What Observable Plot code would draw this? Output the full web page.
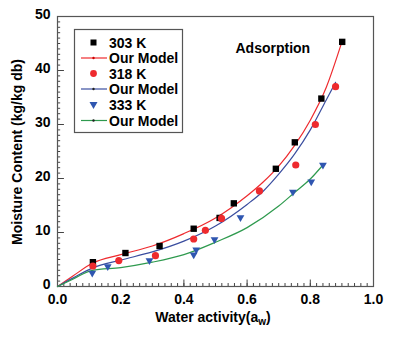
<!DOCTYPE html>
<html>
<head>
<meta charset="utf-8">
<script src="https://cdn.jsdelivr.net/npm/d3@7"></script>
<script src="https://cdn.jsdelivr.net/npm/@observablehq/plot@0.6"></script>
<style>
  html, body { margin: 0; padding: 0; background: #fff; }
  #chart { width: 400px; height: 341px; }
</style>
</head>
<body>
<div id="chart"></div>
<script>
// Observed data
const aw303 = [0.112, 0.215, 0.323, 0.431, 0.513, 0.558, 0.691, 0.751, 0.835, 0.901];
const mc303 = [4.5, 6.2, 7.5, 10.7, 12.7, 15.4, 21.8, 26.7, 34.8, 45.3];
const aw318 = [0.112, 0.194, 0.310, 0.431, 0.468, 0.519, 0.639, 0.754, 0.816, 0.880];
const mc318 = [3.8, 4.8, 5.7, 8.8, 10.4, 12.6, 17.7, 22.5, 30.0, 37.0];
const aw333 = [0.110, 0.159, 0.291, 0.431, 0.439, 0.497, 0.579, 0.745, 0.803, 0.840];
const mc333 = [2.5, 3.7, 4.8, 5.9, 6.8, 8.7, 12.8, 17.5, 19.4, 22.5];

// Model curves
const model303aw = [0, 0.05, 0.11, 0.2, 0.3, 0.4, 0.5, 0.55, 0.6, 0.65, 0.7, 0.75, 0.8, 0.85, 0.9];
const model303mc = [0, 2.0, 4.3, 5.9, 7.5, 9.8, 12.7, 14.6, 16.8, 19.3, 22.3, 26.1, 30.8, 36.8, 45.3];
const model318aw = [0, 0.05, 0.11, 0.2, 0.3, 0.4, 0.5, 0.6, 0.65, 0.7, 0.75, 0.8, 0.85, 0.88];
const model318mc = [0, 1.6, 3.4, 4.9, 6.4, 8.4, 11.2, 15.2, 17.6, 20.8, 24.5, 29.0, 34.5, 37.8];
const model333aw = [0, 0.05, 0.11, 0.2, 0.3, 0.4, 0.5, 0.6, 0.7, 0.75, 0.8, 0.84];
const model333mc = [0, 1.4, 3.0, 3.5, 4.5, 5.9, 8.2, 10.9, 14.9, 17.4, 19.9, 22.5];

// Ticks
const xTicks = [0, 0.2, 0.4, 0.6, 0.8, 1.0];
const xMinorTicks = d3.range(0, 51).map(i => i / 50);
const yTicks = [0, 10, 20, 30, 40, 50];
const yMinorTicks = d3.range(0, 51);

// Legend labels
const seriesLabels = ["303 K", "Our Model", "318 K", "Our Model", "333 K", "Our Model"];
const annotation = "Adsorption";

const RED = "#ee2a2e", BLUE = "#3a4d9f", GREEN = "#2e9a4e", TRI = "#2f56b0";

const zip = (xs, ys) => xs.map((x, i) => ({x, y: ys[i]}));

const triangleDown = {
  draw(context, size) {
    const s = Math.sqrt(size) * 1.1;
    const h = s * Math.sqrt(3) / 2;
    context.moveTo(-s / 2, -h / 3);
    context.lineTo(s / 2, -h / 3);
    context.lineTo(0, 2 * h / 3);
    context.closePath();
  }
};

const plot = Plot.plot({
  width: 400,
  height: 341,
  marginLeft: 57,
  marginRight: 27,
  marginTop: 16,
  marginBottom: 55,
  style: {fontFamily: "'Liberation Sans', Arial, sans-serif", fontSize: "14px", fontWeight: "bold", color: "#000", background: "#fff"},
  x: {domain: [0, 1]},
  y: {domain: [0, 50]},
  marks: [
    // minor and major inward ticks
    Plot.ruleX(xMinorTicks, {x: d => d, y1: 0, y2: 0.55, stroke: "#444", strokeWidth: 1}),
    Plot.ruleX(xTicks, {x: d => d, y1: 0, y2: 1.2, stroke: "#444", strokeWidth: 1}),
    Plot.ruleY(yMinorTicks, {y: d => d, x1: 0, x2: 0.01, stroke: "#444", strokeWidth: 1}),
    Plot.ruleY(yTicks, {y: d => d, x1: 0, x2: 0.022, stroke: "#444", strokeWidth: 1}),
    Plot.frame({stroke: "#555", strokeWidth: 1.2}),
    Plot.axisX({ticks: xTicks, tickSize: 0, tickPadding: 8, tickFormat: d3.format(".1f"), label: null, fontSize: 14, fontWeight: "bold"}),
    Plot.axisY({ticks: yTicks, tickSize: 0, tickPadding: 7, dy: -1.5, label: null, fontSize: 14, fontWeight: "bold"}),
    // model lines
    Plot.line(zip(model303aw, model303mc), {x: "x", y: "y", stroke: RED, strokeWidth: 1.2, curve: "monotone-x"}),
    Plot.line(zip(model318aw, model318mc), {x: "x", y: "y", stroke: BLUE, strokeWidth: 1.2, curve: "monotone-x"}),
    Plot.line(zip(model333aw, model333mc), {x: "x", y: "y", stroke: GREEN, strokeWidth: 1.2, curve: "monotone-x"}),
    // observed points
    Plot.dot(zip(aw303, mc303), {x: "x", y: "y", symbol: "square", r: 3.6, fill: "#000"}),
    Plot.dot(zip(aw318, mc318), {x: "x", y: "y", symbol: "circle", r: 3.6, fill: RED}),
    Plot.dot(zip(aw333, mc333), {x: "x", y: "y", symbol: triangleDown, r: 4, fill: TRI}),
    // annotation
    Plot.text([annotation], {frameAnchor: "top-left", text: d => d, dx: 178, dy: 27, textAnchor: "start", fontSize: 14, fontWeight: "bold", fill: "#000"})
  ]
});

document.getElementById("chart").appendChild(plot);

// Legend and axis titles drawn on the same svg
const svg = d3.select(plot);
const legend = svg.append("g").attr("text-anchor", "start");
legend.append("rect").attr("x", 74.5).attr("y", 29.5).attr("width", 108).attr("height", 103)
  .attr("fill", "#fff").attr("stroke", "#555").attr("stroke-width", 1.2);
const rowY = [42.5, 58, 73.5, 89, 105, 120.5];
const rowKinds = [
  {type: "square", color: "#000"},
  {type: "line", color: RED},
  {type: "circle", color: RED},
  {type: "line", color: BLUE},
  {type: "tri", color: TRI},
  {type: "line", color: GREEN}
];
rowKinds.forEach((k, i) => {
  const y = rowY[i];
  if (k.type === "square") {
    legend.append("rect").attr("x", 90.5).attr("y", y - 3).attr("width", 6).attr("height", 6).attr("fill", k.color);
  } else if (k.type === "circle") {
    legend.append("circle").attr("cx", 93.5).attr("cy", y).attr("r", 3.4).attr("fill", k.color);
  } else if (k.type === "tri") {
    legend.append("path").attr("d", `M${89.5},${y - 3}L${97.5},${y - 3}L${93.5},${y + 4}Z`).attr("fill", k.color);
  } else {
    legend.append("line").attr("x1", 81).attr("x2", 107).attr("y1", y).attr("y2", y)
      .attr("stroke", k.color).attr("stroke-width", 1.2);
    legend.append("circle").attr("cx", 93.5).attr("cy", y).attr("r", 1.2).attr("fill", k.color === RED ? "#c00" : "#222");
  }
  legend.append("text").attr("x", 109).attr("y", y).attr("dy", "0.36em").attr("text-anchor", "start")
    .attr("font-size", 14).attr("font-weight", "bold").attr("fill", "#000").text(seriesLabels[i]);
});

const xl = svg.append("text").attr("x", 213).attr("y", 322).attr("text-anchor", "middle")
  .attr("font-size", 14).attr("font-weight", "bold").attr("fill", "#000");
xl.append("tspan").text("Water activity(a");
xl.append("tspan").attr("font-size", 10).attr("dy", 3).text("w");
xl.append("tspan").attr("dy", -3).text(")");

svg.append("text").attr("transform", "translate(22,152) rotate(-90)").attr("text-anchor", "middle")
  .attr("font-size", 14).attr("font-weight", "bold").attr("fill", "#000")
  .text("Moisture Content (kg/kg db)");
</script>
</body>
</html>
